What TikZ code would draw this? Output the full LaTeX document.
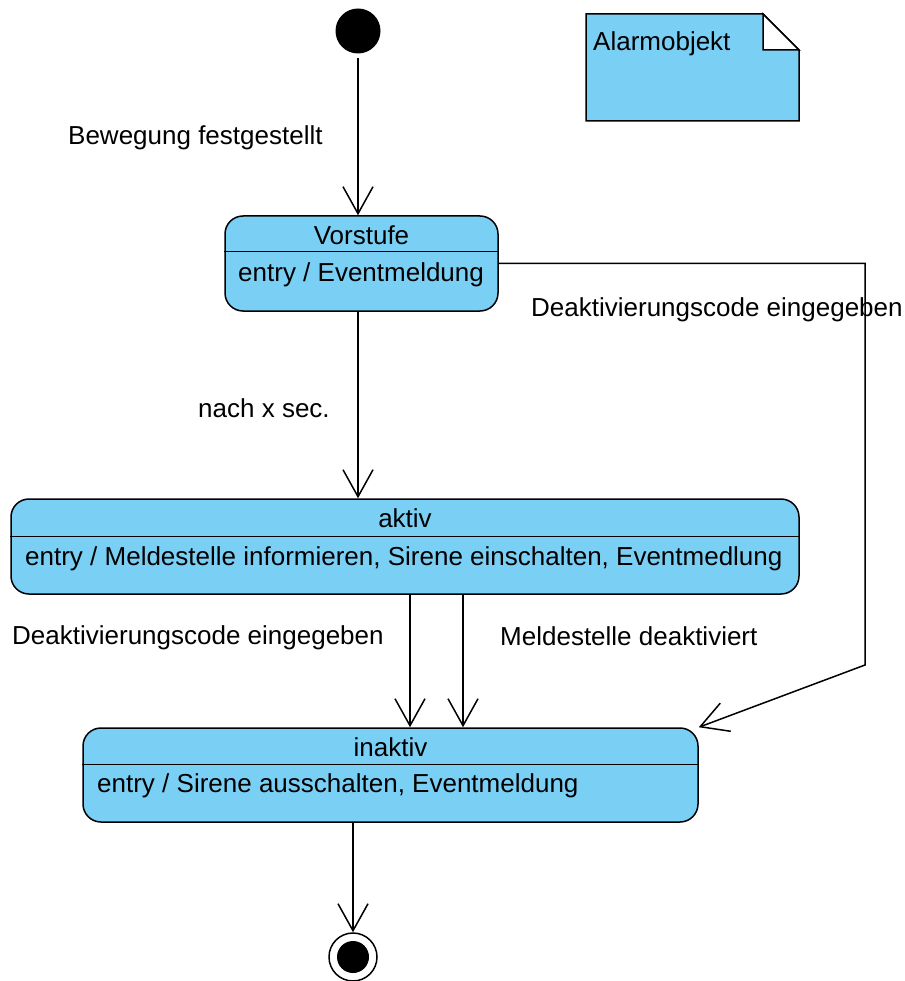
\documentclass[tikz,border=0pt]{standalone}
\usepackage{fontspec}
\setmainfont{Liberation Sans}
\usetikzlibrary{arrows.meta, calc}
\definecolor{stfill}{HTML}{7ACFF5}
\tikzset{
  stt/.style = {draw, fill=stfill, rectangle, rounded corners=18pt,
                line width=1.5pt, inner sep=0pt},
  txt/.style = {font=\fontsize{26}{30}\selectfont, inner sep=0pt},
  ar/.style  = {-{Straight Barb[length=27pt, width=30pt]}, line width=1.5pt},
  sep/.style = {line width=1pt},
}

\begin{document}
\begin{tikzpicture}[x=1pt, y=-1pt]
    \useasboundingbox (0,0) rectangle (904,981);
    % note
    \filldraw[fill=stfill, line width=1.5pt] (586,14) -- (763,14) -- (799,50) -- (799,121) -- (586,121) -- cycle;
    \filldraw[fill=white, line width=1.5pt] (763,14) -- (763,50) -- (799,50) -- cycle;
    \node[txt, anchor=base west] (alarm) at (593,51) {Alarmobjekt};
    % start and end
    \node[circle, fill=black, minimum size=45pt, inner sep=0pt] (start) at (358,31) {};
    \node[circle, draw, fill=white, line width=1.5pt, minimum size=48pt, inner sep=0pt] (final) at (353,957) {};
    \node[circle, fill=black, minimum size=32pt, inner sep=0pt] (finaldot) at (final) {};
    % states
    \node[stt, minimum width=273pt, minimum height=95pt] (vorstufe) at (361.5,263.5) {};
    \draw[sep] (vorstufe.west |- 0,252) -- (vorstufe.east |- 0,252);
    \node[txt, anchor=base] (vorstufeT) at (361.5,245) {Vorstufe};
    \node[txt, anchor=base west] (vorstufeE) at (238,281) {entry / Eventmeldung};

    \node[stt, minimum width=788pt, minimum height=95pt] (aktiv) at (405,546.5) {};
    \draw[sep] (aktiv.west |- 0,536) -- (aktiv.east |- 0,536);
    \node[txt, anchor=base] (aktivT) at (405,527) {aktiv};
    \node[txt, anchor=base west] (aktivE) at (25,565) {entry / Meldestelle informieren, Sirene einschalten, Eventmedlung};

    \node[stt, minimum width=615pt, minimum height=94pt] (inaktiv) at (390.5,775) {};
    \draw[sep] (inaktiv.west |- 0,764) -- (inaktiv.east |- 0,764);
    \node[txt, anchor=base] (inaktivT) at (390.5,756) {inaktiv};
    \node[txt, anchor=base west] (inaktivE) at (97,792) {entry / Sirene ausschalten, Eventmeldung};
    % transitions
    \draw[ar, shorten <=4pt] (start) -- (start |- vorstufe.north);
    \draw[ar] (vorstufe.south -| start) -- (aktiv.north -| start);
    \draw[ar] (aktiv.south -| 410,0) -- (inaktiv.north -| 410,0);
    \draw[ar] (aktiv.south -| 463,0) -- (inaktiv.north -| 463,0);
    \draw[ar] (vorstufe.east) -| (865,665) -- (inaktiv.north east);
    \draw[ar] (inaktiv.south -| final) -- (final.north);
    % labels
    \node[txt, anchor=base west] (lbBew) at (68,145) {Bewegung festgestellt};
    \node[txt, anchor=base west] (lbNach) at (198,417) {nach x sec.};
    \node[txt, anchor=base west] (lbDeakR) at (531,316) {Deaktivierungscode eingegeben};
    \node[txt, anchor=base west] (lbDeakL) at (12,644) {Deaktivierungscode eingegeben};
    \node[txt, anchor=base west] (lbMeld) at (500,645) {Meldestelle deaktiviert};
  \end{tikzpicture}
\end{document}
